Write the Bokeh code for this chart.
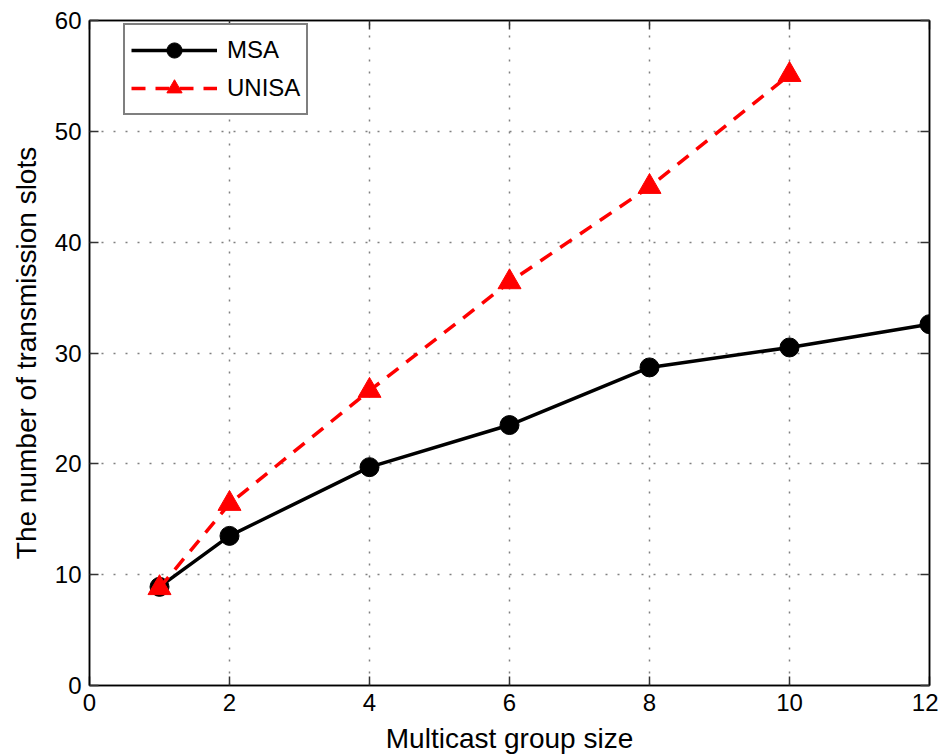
from bokeh.plotting import figure
from bokeh.models import Range1d, LinearAxis, FixedTicker, Legend, LegendItem, ColumnDataSource
from bokeh.embed import file_html
from bokeh.resources import INLINE

# ---- data ----
group_size = [1, 2, 4, 6, 8, 10, 12]
msa = [8.9, 13.5, 19.7, 23.5, 28.7, 30.5, 32.6]
unisa_size = [1, 2, 4, 6, 8, 10]
unisa = [8.8, 16.4, 26.6, 36.4, 45.0, 55.1]
x_ticks = [0, 2, 4, 6, 8, 10, 12]
y_ticks = [0, 10, 20, 30, 40, 50, 60]

FONT = "Liberation Sans"

p = figure(width=938, height=756, output_backend="svg", toolbar_location=None,
           x_range=Range1d(0, 12), y_range=Range1d(0, 60),
           min_border_left=89, min_border_right=9, min_border_top=20, min_border_bottom=71)
p.background_fill_color = "white"
p.border_fill_color = "white"
p.outline_line_color = "black"
p.outline_line_width = 1.5

for ax in p.xaxis + p.yaxis:
    ax.major_tick_in = 9
    ax.major_tick_out = 0
    ax.minor_tick_line_color = None
    ax.axis_line_color = "black"
    ax.axis_line_width = 1.5
    ax.major_tick_line_color = "#333333"
    ax.major_tick_line_width = 1.5
    ax.major_label_text_font = FONT
    ax.major_label_text_font_size = "24px"
    ax.major_label_text_color = "black"
    ax.axis_label_text_font = FONT
    ax.axis_label_text_font_size = "28px"
    ax.axis_label_text_font_style = "normal"
    ax.axis_label_text_color = "black"
    ax.major_label_standoff = 8

p.xaxis.ticker = FixedTicker(ticks=x_ticks)
p.yaxis.ticker = FixedTicker(ticks=y_ticks)
p.xaxis.axis_label = "Multicast group size"
p.yaxis.axis_label = "The number of transmission slots"
p.xaxis.axis_label_standoff = 9
p.yaxis.axis_label_standoff = 10

# mirrored axes (top/right) with inward ticks only
top = LinearAxis(ticker=FixedTicker(ticks=x_ticks))
right = LinearAxis(ticker=FixedTicker(ticks=y_ticks))
for ax in (top, right):
    ax.major_tick_in = 9
    ax.major_tick_out = 0
    ax.minor_tick_line_color = None
    ax.axis_line_color = "black"
    ax.axis_line_width = 1.5
    ax.major_tick_line_color = "#333333"
    ax.major_tick_line_width = 1.5
    ax.major_label_text_font_size = "1px"
    ax.major_label_text_color = None
    ax.major_label_standoff = 0
p.add_layout(top, "above")
p.add_layout(right, "right")

p.xgrid.ticker = FixedTicker(ticks=x_ticks)
p.ygrid.ticker = FixedTicker(ticks=y_ticks)
for g in (p.xgrid[0], p.ygrid[0]):
    g.grid_line_color = "#808080"
    g.grid_line_width = 1.5
    g.grid_line_dash = "2 10"

src_msa = ColumnDataSource(dict(x=group_size, y=msa))
src_uni = ColumnDataSource(dict(x=unisa_size, y=unisa))

l1 = p.line("x", "y", source=src_msa, line_color="black", line_width=3.5)
s1 = p.scatter("x", "y", source=src_msa, marker="circle", size=19,
               fill_color="black", line_color="black")
l2 = p.line("x", "y", source=src_uni, line_color="#ff0000", line_width=3.5, line_dash="14 10")
s2 = p.scatter("x", "y", source=src_uni, marker="triangle", size=23,
               fill_color="#ff0000", line_color="#ff0000")

legend = Legend(items=[LegendItem(label="MSA", renderers=[l1, s1]),
                       LegendItem(label="UNISA", renderers=[l2, s2])],
                location=(34, 570))
legend.label_text_font = FONT
legend.label_text_font_size = "24px"
legend.label_text_color = "black"
legend.border_line_color = "black"
legend.border_line_width = 2
legend.background_fill_color = "white"
legend.background_fill_alpha = 1
legend.glyph_width = 86
legend.glyph_height = 38
legend.label_height = 38
legend.spacing = -4
legend.padding = 6
legend.margin = 0
legend.label_standoff = 10
p.add_layout(legend, "center")

open("out.html", "w").write(file_html(p, INLINE))
